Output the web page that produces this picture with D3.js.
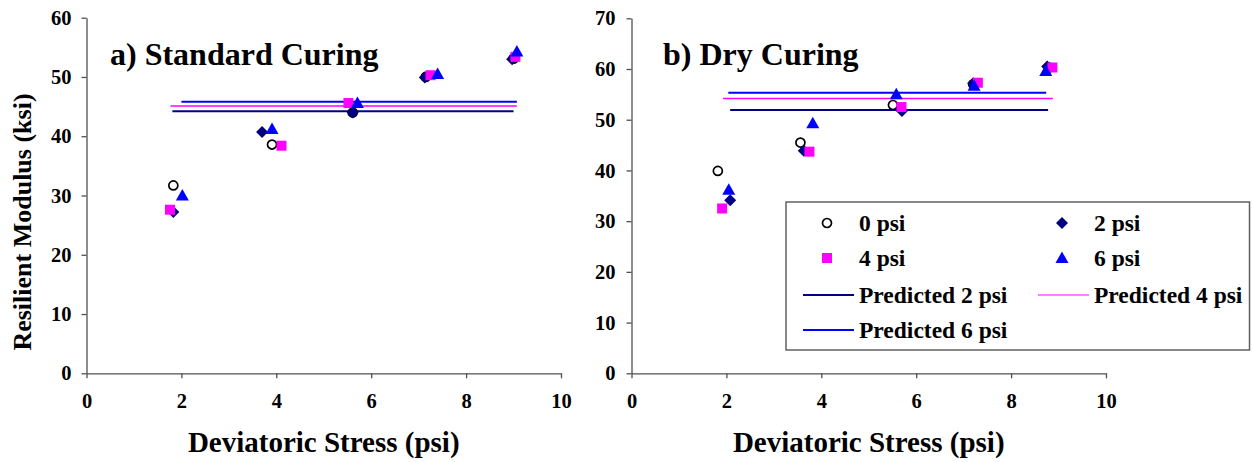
<!DOCTYPE html>
<html><head><meta charset="utf-8">
<script src="https://cdn.jsdelivr.net/npm/d3@7"></script>
<style>
html,body{margin:0;padding:0;background:#fff;}
svg{display:block;}
text{font-family:"Liberation Serif","Times New Roman",serif;font-weight:bold;fill:#000;}
</style></head>
<body>
<svg id="chart" width="1252" height="462"></svg>
<script>
// ---------- DATA ----------
const seriesNames = ["0 psi", "2 psi", "4 psi", "6 psi"];
const predictedNames = ["Predicted 2 psi", "Predicted 4 psi", "Predicted 6 psi"];
const xTicks = [0, 2, 4, 6, 8, 10];
const yTicksA = [0, 10, 20, 30, 40, 50, 60];
const yTicksB = [0, 10, 20, 30, 40, 50, 60, 70];

// a) Standard Curing
const stdX0 = [1.83, 3.91, 5.61, 7.15, 9.00];
const stdY0 = [31.7, 38.6, 44.0, 50.0, 53.1];
const stdX2 = [1.83, 3.70, 5.61, 7.13, 8.97];
const stdY2 = [27.2, 40.7, 44.0, 49.9, 53.0];
const stdX4 = [1.76, 4.11, 5.52, 7.25, 9.04];
const stdY4 = [27.6, 38.4, 45.6, 50.3, 53.4];
const stdX6 = [2.02, 3.91, 5.71, 7.40, 9.07];
const stdY6 = [30.0, 41.2, 45.6, 50.5, 54.3];
const stdPredY = [44.2, 45.1, 45.8];
const stdPredX1 = [1.81, 1.77, 2.00];
const stdPredX2 = [9.00, 9.07, 9.07];

// b) Dry Curing
const dryX0 = [1.82, 3.56, 5.51, 7.20, 8.80];
const dryY0 = [39.9, 45.5, 52.9, 57.0, 60.3];
const dryX2 = [2.08, 3.63, 5.70, 7.20, 8.76];
const dryY2 = [34.1, 43.9, 51.7, 57.2, 60.5];
const dryX4 = [1.91, 3.75, 5.69, 7.30, 8.87];
const dryY4 = [32.5, 43.7, 52.5, 57.3, 60.3];
const dryX6 = [2.05, 3.82, 5.58, 7.22, 8.73];
const dryY6 = [36.2, 49.3, 55.0, 56.7, 59.6];
const dryPredY = [51.9, 54.2, 55.3];
const dryPredX1 = [2.08, 1.93, 2.04];
const dryPredX2 = [8.78, 8.88, 8.74];

// ---------- STYLE ----------
const markerTypes = ["circle", "diamond", "square", "triangle"];
const markerColors = ["#000000", "#000080", "#FF00FF", "#0000FF"];
const lineColors = ["#000080", "#FF00FF", "#0000FF"];
const lineWidths = [2, 1.5, 2];

const svg = d3.select("#chart");
svg.append("rect").attr("width", 1252).attr("height", 462).attr("fill", "#fff");

function markerPath(type) {
  if (type === "diamond") return "M0,-6L6,0L0,6L-6,0Z";
  if (type === "square") return "M-5,-5H5V5H-5Z";
  if (type === "triangle") return "M0,-6.5L6.5,5L-6.5,5Z";
  return null;
}
function drawMarker(g, type, color) {
  if (type === "circle") {
    g.append("circle").attr("r", 4.5).attr("fill", "#fff").attr("stroke", color).attr("stroke-width", 1.7);
  } else {
    g.append("path").attr("d", markerPath(type)).attr("fill", color);
  }
}

function panel(cfg) {
  const x = d3.scaleLinear().domain([0, 10]).range(cfg.xr);
  const y = d3.scaleLinear().domain([0, cfg.ymax]).range(cfg.yr);
  const g = svg.append("g");

  const ax = g.append("g").attr("transform", `translate(0,${cfg.yr[0]})`)
    .call(d3.axisBottom(x).tickValues(xTicks).tickFormat(d3.format("d")).tickSize(5).tickSizeOuter(0).tickPadding(15));
  const ay = g.append("g").attr("transform", `translate(${cfg.xr[0]},0)`)
    .call(d3.axisLeft(y).tickValues(cfg.yTicks).tickFormat(d3.format("d")).tickSize(5).tickSizeOuter(0).tickPadding(cfg.yPad));
  [ax, ay].forEach(a => {
    a.selectAll("path.domain").attr("stroke", "#505050").attr("stroke-width", 1.3);
    a.selectAll(".tick line").attr("stroke", "#505050").attr("stroke-width", 1.3);
    a.selectAll("text").attr("font-family", '"Liberation Serif","Times New Roman",serif')
      .attr("font-weight", "bold").attr("font-size", 20.5).attr("fill", "#000");
  });

  // predicted lines
  cfg.predY.forEach((v, i) => {
    g.append("line")
      .attr("x1", x(cfg.predX1[i])).attr("x2", x(cfg.predX2[i]))
      .attr("y1", y(v)).attr("y2", y(v))
      .attr("stroke", lineColors[i]).attr("stroke-width", lineWidths[i]);
  });

  // scatter series
  cfg.series.forEach((s, si) => {
    s.xs.forEach((xv, j) => {
      const mg = g.append("g").attr("transform", `translate(${x(xv)},${y(s.ys[j])})`);
      drawMarker(mg, markerTypes[si], markerColors[si]);
    });
  });

  // panel title
  g.append("text").attr("x", cfg.titleX).attr("y", 65).attr("font-size", 32).text(cfg.title);

  // x axis title
  g.append("text").attr("x", (cfg.xr[0] + cfg.xr[1]) / 2).attr("y", 452)
    .attr("text-anchor", "middle").attr("font-size", 29).text("Deviatoric Stress (psi)");
}

panel({
  xr: [86.5, 561], yr: [373.3, 17.7], ymax: 60, yTicks: yTicksA, yPad: 10,
  title: "a) Standard Curing", titleX: 110,
  predY: stdPredY, predX1: stdPredX1, predX2: stdPredX2,
  series: [{xs: stdX0, ys: stdY0}, {xs: stdX2, ys: stdY2}, {xs: stdX4, ys: stdY4}, {xs: stdX6, ys: stdY6}]
});
panel({
  xr: [631.5, 1106], yr: [373.3, 18.3], ymax: 70, yTicks: yTicksB, yPad: 11,
  title: "b) Dry Curing", titleX: 663,
  predY: dryPredY, predX1: dryPredX1, predX2: dryPredX2,
  series: [{xs: dryX0, ys: dryY0}, {xs: dryX2, ys: dryY2}, {xs: dryX4, ys: dryY4}, {xs: dryX6, ys: dryY6}]
});

// y axis title
svg.append("text").attr("transform", "translate(31,222) rotate(-90)")
  .attr("text-anchor", "middle").attr("font-size", 26).text("Resilient Modulus (ksi)");

// ---------- LEGEND ----------
const lg = svg.append("g");
lg.append("rect").attr("x", 786).attr("y", 202).attr("width", 463.5).attr("height", 148)
  .attr("fill", "#fff").attr("stroke", "#606060").attr("stroke-width", 1.5);
const legendItems = seriesNames.map((n, i) => ({name: n, kind: "marker", idx: i}))
  .concat(predictedNames.map((n, i) => ({name: n, kind: "line", idx: i})));
const colX = [786, 1021];
const rowY = [223, 258, 295, 330];
legendItems.forEach((it, k) => {
  const c = k % 2, r = Math.floor(k / 2);
  const gx = colX[c], gy = rowY[r];
  if (it.kind === "marker") {
    const mg = lg.append("g").attr("transform", `translate(${gx + 41},${gy})`);
    drawMarker(mg, markerTypes[it.idx], markerColors[it.idx]);
  } else {
    lg.append("line").attr("x1", gx + 17).attr("x2", gx + 68).attr("y1", gy).attr("y2", gy)
      .attr("stroke", lineColors[it.idx]).attr("stroke-width", it.idx === 1 ? 1.2 : 1.8);
  }
  lg.append("text").attr("x", gx + 73).attr("y", gy + 7.5).attr("font-size", 23.5).text(it.name);
});
</script>
</body></html>
